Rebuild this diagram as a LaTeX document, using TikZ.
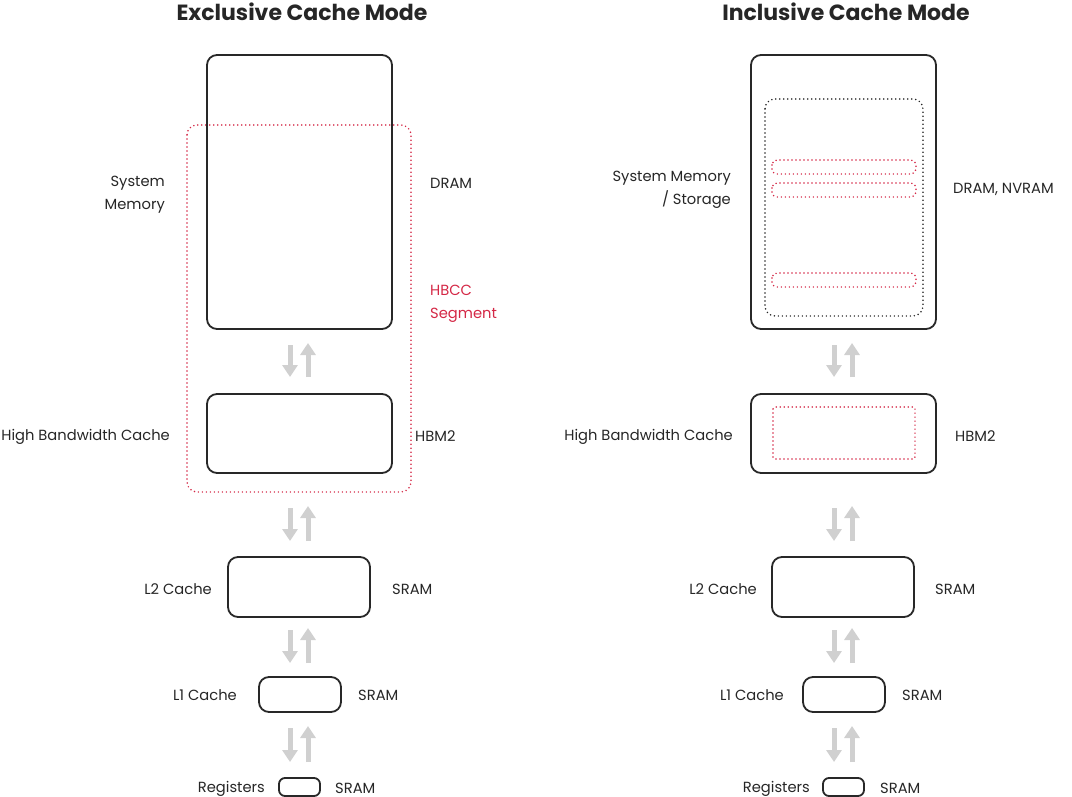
\documentclass[tikz,border=0pt]{standalone}
\usepackage{fontspec}
\setmainfont{Poppins}
\usetikzlibrary{arrows.meta}
\definecolor{boxc}{RGB}{40,40,40}
\definecolor{hbred}{RGB}{212,40,70}
\definecolor{arrc}{RGB}{208,208,208}
\tikzset{
  cbox/.style={draw=boxc, line width=1.8pt, rounded corners=10pt, inner sep=0pt, fill=none},
  lbl/.style={font=\fontsize{14.7}{23}\selectfont, text=black!85, inner sep=0pt, yshift=-1.5pt},
  ttl/.style={font=\bfseries\fontsize{22}{24}\selectfont, text=black!85, inner sep=0pt},
  reddot/.style={draw=hbred, line width=1.7pt, dash pattern=on 0pt off 4pt, line cap=round, rounded corners=10pt},
  blkdot/.style={draw=black!85, line width=1.7pt, dash pattern=on 0pt off 4pt, line cap=round, rounded corners=10pt},
  arr/.style={draw=arrc, line width=5pt, -{Triangle[length=12pt,width=15pt]}},
}
\newcommand{\updown}[3]{% x, ytop, ybot
  \draw[arr] (#1-9,#2) -- (#1-9,#3);
  \draw[arr] (#1+9,#3) -- (#1+9,#2-2);
}
\begin{document}
\begin{tikzpicture}[x=1pt,y=-1pt]
\useasboundingbox (0,0) rectangle (1072,797);

% ===== Left: Exclusive =====
\node[ttl] (t1) at (302,12) {Exclusive Cache Mode};
\draw[reddot] (187,125) rectangle (411,492);
\node[cbox, minimum width=185pt, minimum height=274pt] (ls) at (299.5,192) {};
\node[cbox, minimum width=185pt, minimum height=79pt] (lh) at (299.5,433.5) {};
\node[cbox, minimum width=142pt, minimum height=60pt] (l2) at (299,587) {};
\node[cbox, minimum width=82pt, minimum height=35pt] (l1) at (300,694.5) {};
\node[cbox, minimum width=41pt, minimum height=18pt, rounded corners=6pt] (lr) at (299.5,787) {};

\node[lbl, anchor=east, align=right] (lsl) at (165,193.5) {System\\Memory};
\node[lbl, anchor=west] (lsr) at (430,182) {DRAM};
\node[lbl, anchor=west, align=left, text=hbred] (hbcc) at (430,302.5) {HBCC\\Segment};
\node[lbl, anchor=east] (lhl) at (170,435) {High Bandwidth Cache};
\node[lbl, anchor=west] (lhr) at (415,435) {HBM2};
\node[lbl, anchor=east] (l2l) at (212,588) {L2 Cache};
\node[lbl, anchor=west] (l2r) at (392,588) {SRAM};
\node[lbl, anchor=east] (l1l) at (237,694) {L1 Cache};
\node[lbl, anchor=west] (l1r) at (358,694) {SRAM};
\node[lbl, anchor=east] (lrl) at (265,787) {Registers};
\node[lbl, anchor=west] (lrr) at (335,787) {SRAM};

\updown{299}{345}{377}
\updown{299}{508}{541}
\updown{299}{630}{663}
\updown{299}{728}{762}

% ===== Right: Inclusive =====
\node[ttl] (t2) at (846,12) {Inclusive Cache Mode};
\node[cbox, minimum width=185pt, minimum height=274pt] (rs) at (843.5,192) {};
\draw[blkdot] (765,99) rectangle (923,316);
\draw[reddot, rounded corners=5pt] (772,160) rectangle (916,174);
\draw[reddot, rounded corners=5pt] (772,183) rectangle (916,197);
\draw[reddot, rounded corners=5pt] (772,273) rectangle (916,287);
\node[cbox, minimum width=185pt, minimum height=79pt] (rh) at (843.5,433.5) {};
\draw[reddot, rounded corners=2pt] (773,407) rectangle (915,459);
\node[cbox, minimum width=142pt, minimum height=60pt] (r2) at (843,587) {};
\node[cbox, minimum width=82pt, minimum height=35pt] (r1) at (844,694.5) {};
\node[cbox, minimum width=41pt, minimum height=18pt, rounded corners=6pt] (rr) at (843.5,787) {};

\node[lbl, anchor=east, align=right] (rsl) at (731,188) {System Memory\\/ Storage};
\node[lbl, anchor=west] (rsr) at (953,188) {DRAM, NVRAM};
\node[lbl, anchor=east] (rhl) at (733,435) {High Bandwidth Cache};
\node[lbl, anchor=west] (rhr) at (955,435) {HBM2};
\node[lbl, anchor=east] (r2l) at (757,588) {L2 Cache};
\node[lbl, anchor=west] (r2r) at (935,588) {SRAM};
\node[lbl, anchor=east] (r1l) at (784,694) {L1 Cache};
\node[lbl, anchor=west] (r1r) at (902,694) {SRAM};
\node[lbl, anchor=east] (rrl) at (810,787) {Registers};
\node[lbl, anchor=west] (rrr) at (880,787) {SRAM};

\updown{843}{345}{377}
\updown{843}{508}{541}
\updown{843}{630}{663}
\updown{843}{728}{762}
\end{tikzpicture}
\end{document}
